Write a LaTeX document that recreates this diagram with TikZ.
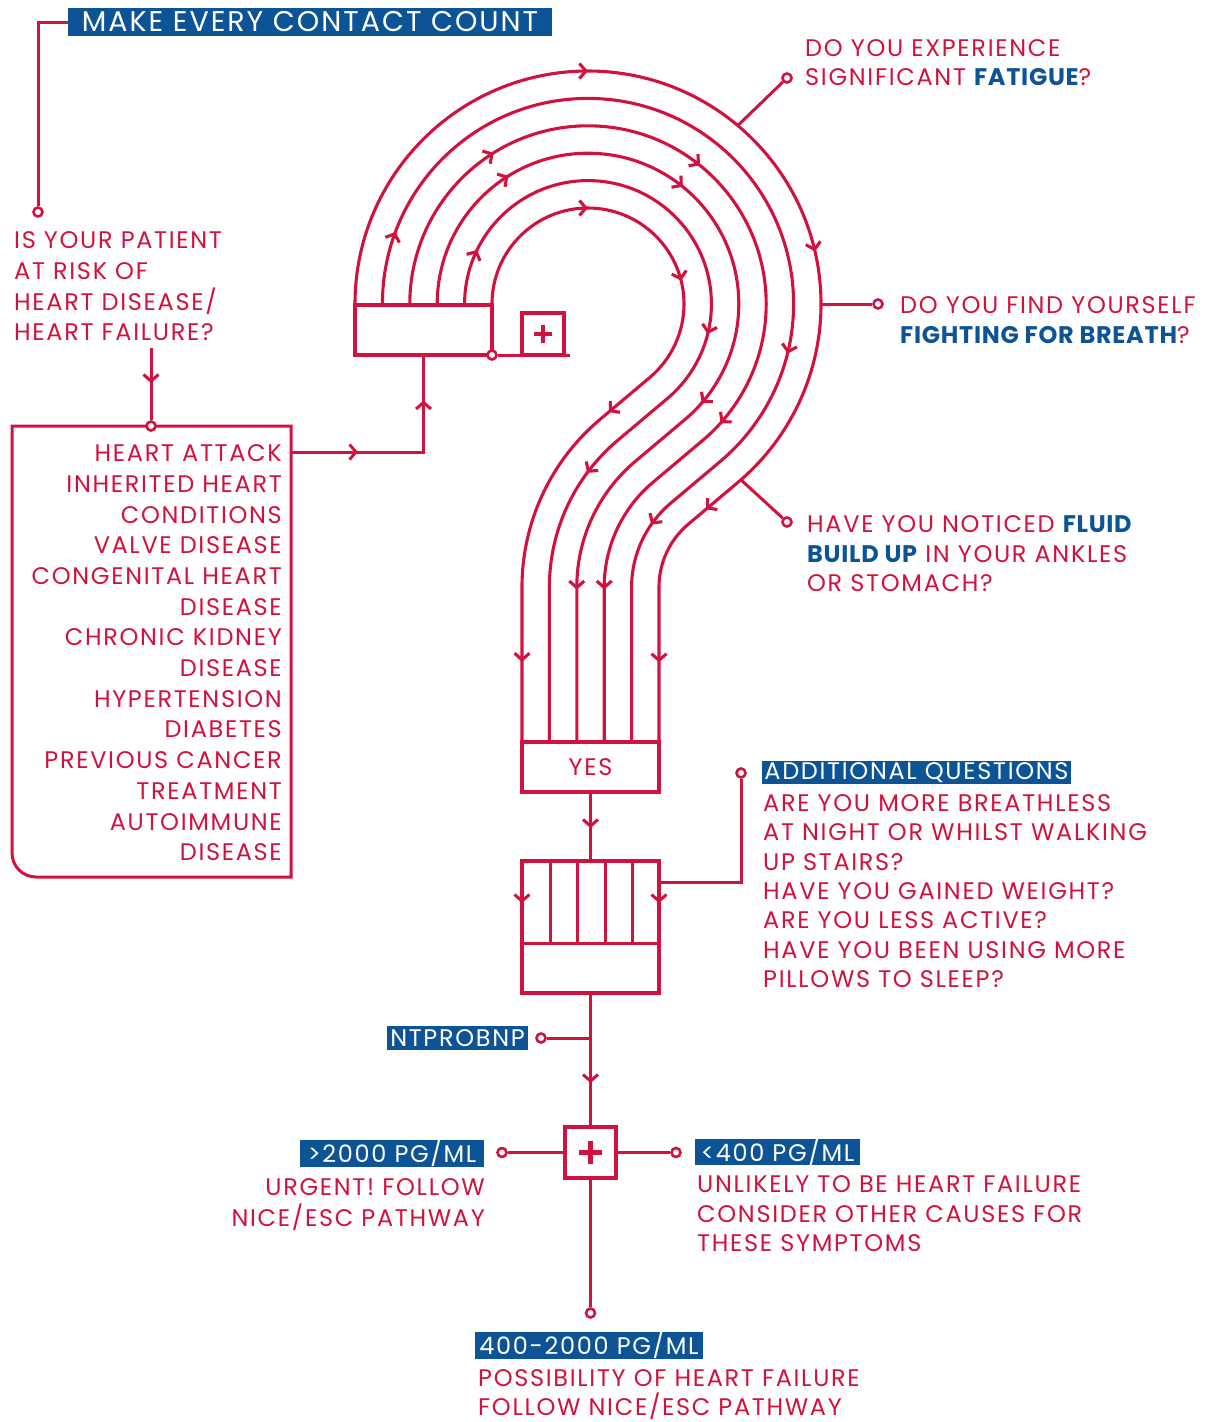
\documentclass[tikz,border=0pt]{standalone}
\usepackage{fontspec}
\setmainfont{Poppins}[LetterSpace=7,BoldFeatures={LetterSpace=3}]
\usepackage{tikz}
\usetikzlibrary{arrows.meta,decorations.markings}
\definecolor{Carmin}{HTML}{D2123E}
\definecolor{Marino}{HTML}{0C5496}
\newcommand{\destaca}[1]{{\bfseries\color{Marino}#1}}
% Una vía del signo: arco superior, tramo recto y curva hacia el tallo
\newcommand{\via}[2]{({588-#1},-304) arc[start angle=180,end angle=-50,radius=#1]
  -- ({741-0.6428*#2},{-587+0.766*#2}) arc[start angle=130,end angle=180,radius=#2]
  -- ({741-#2},-742)}
\tikzset{barb/.tip={Straight Barb[length=6.5pt,width=15pt]}}

\begin{document}
\begin{tikzpicture}[
  x=1pt, y=1pt,
  every node/.style={font=\fontsize{24}{30}\selectfont},
  track/.style={Carmin,line width=3.1pt},
  link/.style={Carmin,line width=3pt},
  tipat/.style={postaction={decorate,decoration={markings,
      mark=at position #1 with {\arrow{barb}}}}},
  dot/.style={circle,draw=Carmin,fill=white,line width=2.6pt,minimum size=9pt,inner sep=0pt},
  panel/.style={draw=Carmin,line width=3.1pt,inner sep=0pt,outer sep=0pt},
  tag/.style={fill=Marino,text=white,inner sep=0pt},
  txt/.style={text=Carmin,inner sep=0pt},
  plusbox/.style={panel,fill=white,minimum size=#1,
    path picture={
      \draw[Carmin,line width={0.1*#1}]
        ([xshift={-0.22*#1}]path picture bounding box.center) -- ([xshift={0.22*#1}]path picture bounding box.center)
        ([yshift={-0.22*#1}]path picture bounding box.center) -- ([yshift={0.22*#1}]path picture bounding box.center);
    }}
]
  \useasboundingbox (0,0) rectangle (1206,-1422);

  % Vías del signo de interrogación
  \draw[track,tipat=150.8pt,tipat=278pt,tipat=439pt,tipat=716pt] \via{96}{219};
  \draw[track,tipat=56pt,tipat=418pt,tipat=605pt] \via{123.4}{191.6};
  \draw[track,tipat=153pt,tipat=339.5pt,tipat=582pt,tipat=816pt] \via{150.8}{164.2};
  \draw[track,tipat=180.4pt,tipat=401pt,tipat=690.5pt,tipat=902pt] \via{178.2}{136.8};
  \draw[track,tipat=73.6pt,tipat=696pt,tipat=919pt] \via{205.6}{109.4};
  \draw[track,tipat=366pt,tipat=679pt,tipat=977pt,tipat=1147pt] \via{233}{82};

  % Caja de arranque y caja con la cruz
  \node[panel,minimum width=137,minimum height=50] (qbox) at (423.5,-330) {};
  \coordinate (shelf) at (570,-355);
  \node[dot] (boxdot) at (qbox.south east) {};
  \draw[link] (boxdot) -- (shelf);
  \node[plusbox=42] (qplus) at (543,-334) {};

  % Pregunta inicial y lista de factores de riesgo
  \node[tag,minimum width=484,minimum height=28,font=\fontsize{28.5}{30}\selectfont]
    (title) at (310,-22) {MAKE EVERY CONTACT COUNT};
  \node[dot] (riskdot) at (38,-212) {};
  \draw[link] (title.west) -| (riskdot);
  \node[txt,anchor=north west,align=left,font=\fontsize{24}{30.7}\selectfont]
    (risk) at (14,-231.5) {IS YOUR PATIENT\\AT RISK OF\\HEART DISEASE/\\HEART FAILURE?};
  \draw[link] (291,-426) -- (12,-426) -- (12,-853)
    arc[start angle=180,end angle=270,radius=24] -- (291,-877) -- cycle;
  \node[dot] (listdot) at (151,-426) {};
  \coordinate (riskfoot) at (151,-348);
  \draw[link,tipat=35pt] (riskfoot) -- (listdot);
  \node[txt,anchor=north east,align=right,font=\fontsize{24}{30.7}\selectfont]
    (conditions) at (282,-444.5) {HEART ATTACK\\INHERITED HEART\\CONDITIONS\\VALVE DISEASE\\CONGENITAL HEART\\DISEASE\\CHRONIC KIDNEY\\DISEASE\\HYPERTENSION\\DIABETES\\PREVIOUS CANCER\\TREATMENT\\AUTOIMMUNE\\DISEASE};
  \coordinate (listout) at (291,-452);
  \draw[link,tipat=67pt,tipat=184pt] (listout) -| (qbox.south);

  % Preguntas sobre síntomas
  \coordinate (fatjoin) at (737.8,-125.5);
  \node[dot] (fatdot) at (787,-78) {};
  \draw[link] (fatjoin) -- (fatdot);
  \node[txt,anchor=north west,align=left,font=\fontsize{24}{29}\selectfont]
    (fatigue) at (805,-39.5) {DO YOU EXPERIENCE\\SIGNIFICANT \destaca{FATIGUE}?};
  \coordinate (breathjoin) at (821,-304);
  \node[dot] (breathdot) at (878,-304) {};
  \draw[link] (breathjoin) -- (breathdot);
  \node[txt,anchor=north west,align=left,font=\fontsize{24}{30}\selectfont]
    (breath) at (900,-296.5) {DO YOU FIND YOURSELF\\\destaca{FIGHTING FOR BREATH}?};
  \coordinate (fluidjoin) at (740.9,-479.8);
  \node[dot] (fluiddot) at (787,-522) {};
  \draw[link] (fluidjoin) -- (fluiddot);
  \node[txt,anchor=north west,align=left,font=\fontsize{24}{29.5}\selectfont]
    (fluid) at (807,-515.5) {HAVE YOU NOTICED \destaca{FLUID}\\\destaca{BUILD UP} IN YOUR ANKLES\\OR STOMACH?};

  % Caja YES y criba
  \node[panel,txt,minimum width=137,minimum height=50] (yes) at (590.5,-767) {YES};
  \node[panel,minimum width=137,minimum height=132] (sieve) at (590.5,-927) {};
  \draw[link] (522,-943) -- (659,-943);
  \foreach \x in {550,577,605,632}
    \draw[link] (\x,-861) -- (\x,-943);
  \draw[link,tipat=42pt] (522,-861) -- (522,-943);
  \draw[link,tipat=42pt] (659,-861) -- (659,-943);
  \draw[link,tipat=36pt] (yes) -- (sieve);

  % Preguntas adicionales
  \node[dot] (addqdot) at (741,-773) {};
  \coordinate (sideout) at (659,-882);
  \draw[link] (sideout) -| (addqdot);
  \node[tag,minimum width=309,minimum height=23] (addq) at (916.5,-772.5) {ADDITIONAL QUESTIONS};
  \node[txt,anchor=north west,align=left,font=\fontsize{24}{29.3}\selectfont]
    (addqtext) at (763,-794.5) {ARE YOU MORE BREATHLESS\\AT NIGHT OR WHILST WALKING\\UP STAIRS?\\HAVE YOU GAINED WEIGHT?\\ARE YOU LESS ACTIVE?\\HAVE YOU BEEN USING MORE\\PILLOWS TO SLEEP?};

  % NTproBNP y resultados
  \node[plusbox=51] (mainplus) at (590.5,-1152.5) {};
  \draw[link,tipat=90pt] (sieve) -- (mainplus);
  \node[dot] (ntprodot) at (541,-1038) {};
  \draw[link] (ntprodot) -- (ntprodot -| sieve.south);
  \node[tag,minimum width=141,minimum height=24] (ntpro) at (457.5,-1038) {NTPROBNP};

  \node[dot] (leftdot) at (502,-1152.5) {};
  \node[dot] (rightdot) at (676,-1152.5) {};
  \node[dot] (lowdot) at (590.5,-1313) {};
  \draw[link] (mainplus) -- (leftdot);
  \draw[link] (mainplus) -- (rightdot);
  \draw[link] (mainplus) -- (lowdot);

  \node[tag,minimum width=184,minimum height=25] (high) at (392,-1153.5) {>2000 PG/ML};
  \node[txt,anchor=north east,align=right,font=\fontsize{24}{31}\selectfont]
    (urgent) at (485,-1178.5) {URGENT! FOLLOW\\NICE/ESC PATHWAY};
  \node[tag,minimum width=165,minimum height=24] (low) at (777.5,-1152) {<400 PG/ML};
  \node[txt,anchor=north west,align=left,font=\fontsize{24}{29.5}\selectfont]
    (unlikely) at (697,-1175.5) {UNLIKELY TO BE HEART FAILURE\\CONSIDER OTHER CAUSES FOR\\THESE SYMPTOMS};
  \node[tag,minimum width=228,minimum height=25] (mid) at (589,-1345.5) {400-2000 PG/ML};
  \node[txt,anchor=north west,align=left,font=\fontsize{24}{29}\selectfont]
    (possible) at (478,-1369) {POSSIBILITY OF HEART FAILURE\\FOLLOW NICE/ESC PATHWAY};
\end{tikzpicture}
\end{document}
